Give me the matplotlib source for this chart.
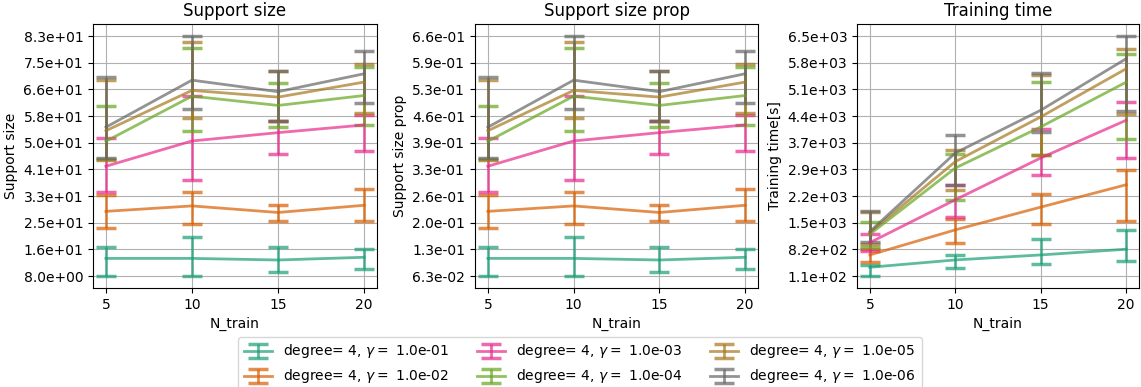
import numpy as np
import matplotlib.pyplot as plt
from matplotlib.ticker import FormatStrFormatter

# experiment settings
n_train = [5, 10, 15, 20]
degree = 4
gammas = [1e-1, 1e-2, 1e-3, 1e-4, 1e-5, 1e-6]
n_support_total = 126  # support size prop = support size / total

# support size: mean, lower and upper end of the bars (one row per gamma)
size_mean = [
    [13.5, 13.5, 13.0, 13.85],
    [28.2, 29.9, 27.85, 30.1],
    [42.3, 50.2, 52.8, 55.2],
    [50.1, 64.2, 61.3, 64.4],
    [53.4, 66.0, 63.9, 68.6],
    [54.5, 69.2, 65.6, 71.2],
]
size_lo = [
    [8.0, 8.0, 9.15, 10.3],
    [23.0, 24.2, 25.2, 25.2],
    [34.1, 38.1, 46.2, 47.2],
    [44.6, 53.3, 54.5, 55.2],
    [44.4, 57.3, 56.4, 59.0],
    [44.9, 60.2, 56.4, 62.1],
]
size_hi = [
    [17.2, 20.1, 17.2, 16.4],
    [33.4, 34.2, 30.25, 35.3],
    [51.1, 64.1, 56.4, 58.3],
    [61.1, 79.3, 68.2, 73.3],
    [69.4, 81.1, 72.0, 74.1],
    [70.3, 83.0, 72.2, 78.3],
]

# training time [s]
time_mean = [
    [342, 537, 670, 822],
    [670, 1336, 1941, 2536],
    [998, 2136, 3248, 4250],
    [1220, 2980, 4074, 5263],
    [1265, 3150, 4340, 5620],
    [1291, 3380, 4517, 5887],
]
time_lo = [
    [110, 315, 430, 500],
    [491, 982, 1504, 1568],
    [785, 1675, 2784, 3256],
    [891, 2118, 3330, 3762],
    [950, 2403, 3328, 4429],
    [1024, 2536, 3941, 4490],
]
time_hi = [
    [395, 670, 1096, 1336],
    [820, 1637, 2288, 2936],
    [1230, 2540, 4021, 4741],
    [1542, 3354, 5274, 6002],
    [1800, 3469, 5450, 6154],
    [1843, 3869, 5495, 6490],
]

colors = ['#1b9e77', '#d95f02', '#e7298a', '#66a61e', '#a6761d', '#666666']


def draw_panel(ax, mean, lo, hi, title, ylabel):
    mean = np.array(mean, dtype=float)
    lo = np.array(lo, dtype=float)
    hi = np.array(hi, dtype=float)
    handles = []
    for i, g in enumerate(gammas):
        h = ax.errorbar(n_train, mean[i], yerr=[mean[i] - lo[i], hi[i] - mean[i]],
                        color=colors[i], alpha=0.7, lw=2, capsize=7, capthick=2.5,
                        label=f'degree= {degree}, $\\gamma=$ {g:.1e}')
        handles.append(h)
    ax.set_yticks(np.linspace(lo.min(), hi.max(), 10))
    ax.yaxis.set_major_formatter(FormatStrFormatter('%.1e'))
    ax.set_xticks(n_train)
    ax.grid(True)
    ax.set_title(title, fontsize=12)
    ax.set_xlabel('N_train', fontsize=10)
    ax.set_ylabel(ylabel, fontsize=10)
    ax.tick_params(labelsize=10)
    return handles


fig = plt.figure(figsize=(11.41, 3.87), dpi=100)
ax1 = fig.add_axes([93 / 1141, 99 / 387, 284 / 1141, 264 / 387])
ax2 = fig.add_axes([475 / 1141, 99 / 387, 283 / 1141, 264 / 387])
ax3 = fig.add_axes([857 / 1141, 99 / 387, 282 / 1141, 264 / 387])

handles = draw_panel(ax1, size_mean, size_lo, size_hi, 'Support size', 'Support size')
prop = lambda a: np.array(a) / n_support_total
draw_panel(ax2, prop(size_mean), prop(size_lo), prop(size_hi),
           'Support size prop', 'Support size prop')
draw_panel(ax3, time_mean, time_lo, time_hi, 'Training time', 'Training time[s]')

fig.legend(handles, [h.get_label() for h in handles], loc='upper center',
           bbox_to_anchor=(580 / 1141, 1 - 330 / 387), ncol=3, fontsize=10)

fig.savefig('out.png', dpi=100)
